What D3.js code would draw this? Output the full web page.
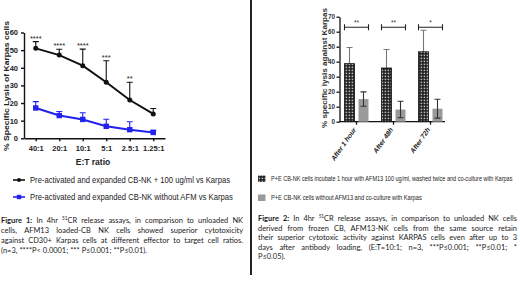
<!DOCTYPE html>
<html>
<head>
<meta charset="utf-8">
<script src="https://cdn.jsdelivr.net/npm/d3@7"></script>
<style>
  body { margin: 0; background: #fff; }
  svg { display: block; }
</style>
</head>
<body>
<div id="wrapper"></div>
<script>
// Figure 1 data: % specific lysis vs E:T ratio
const ratios = ["40:1", "20:1", "10:1", "5:1", "2.5:1", "1.25:1"];
const afmMean = [51, 47.2, 41.2, 31.8, 21.7, 13.8];
const afmSd = [3.8, 3.3, 9.4, 12.2, 10.1, 3.1];
const noAfmMean = [17.2, 12.9, 10.7, 6.8, 4.9, 3.3];
const noAfmSd = [3.6, 2.3, 3.8, 4.0, 4.5, 1.2];
const ratioStars = ["****", "****", "****", "***", "**", ""];
const leftTicks = [0, 10, 20, 30, 40, 50, 60];

// Figure 2 data: lysis after antibody loading
const times = ["After 1 hour", "After 48h", "After 72h"];
const loadedMean = [38.7, 35.8, 46.6];
const loadedSd = [10.8, 12.3, 14.4];
const unloadedMean = [15.1, 8.1, 8.7];
const unloadedSd = [4.8, 5.5, 6.3];
const timeStars = ["**", "**", "*"];
const bracketLevel = 63;
const rightTicks = [0, 10, 20, 30, 40, 50, 60, 70];

const legendLeft = [
  "Pre-activated and expanded CB-NK + 100 ug/ml vs Karpas",
  "Pre-activated and expanded CB-NK without AFM vs Karpas"
];
const legendRight = [
  "P+E CB-NK cells incubate 1 hour with AFM13 100 ug/ml, washed twice and co-culture with Karpas",
  "P+E CB-NK cells without AFM13 and co-culture with Karpas"
];
const caption1 = [
  "#Figure #1: In 4hr {51}CR release assays, in comparison to unloaded NK",
  "cells, AFM13 loaded-CB NK cells showed superior cytotoxicity",
  "against CD30+ Karpas cells at different effector to target cell ratios.",
  "(n=3, ****P< 0.0001; *** P≤0.001; **P≤0.01)."
];
const caption2 = [
  "#Figure #2: In 4hr {51}CR release assays, in comparison to unloaded NK cells",
  "derived from frozen CB, AFM13-NK cells from the same source retain",
  "their superior cytotoxic activity against KARPAS cells even after up to 3",
  "days after antibody loading, (E:T=10:1; n=3, ***P≤0.001; **P≤0.01; *",
  "P≤0.05)."
];

const blue = "#2222ee";
const axisFont = "Liberation Sans, Arial, sans-serif";
const capFont = "Lato, 'Open Sans', sans-serif";

const svg = d3.select("#wrapper").append("svg")
  .attr("width", 520).attr("height", 281)
  .attr("viewBox", "0 0 520 281");
svg.append("rect").attr("width", 520).attr("height", 281).attr("fill", "#fff");

// checker pattern for the loaded bars
const defs = svg.append("defs");
const pat = defs.append("pattern").attr("id", "checker")
  .attr("patternUnits", "userSpaceOnUse").attr("width", 3).attr("height", 3);
pat.append("rect").attr("width", 3).attr("height", 3).attr("fill", "#1a1a1a");
pat.append("rect").attr("x", 0.6).attr("y", 0.6).attr("width", 1.6).attr("height", 1.6).attr("fill", "#bbb");

// squeeze a text horizontally so it spans the given width (narrow font look)
function narrowText(g, str, x, y, fs, width) {
  const t = g.append("text")
    .attr("font-family", axisFont).attr("font-size", fs).attr("fill", "#222")
    .text(str);
  const len = t.node().getComputedTextLength();
  t.attr("transform", `translate(${x},${y}) scale(${width / len},1)`);
  return t;
}

// ---------------- Figure 1 ----------------
const xL = d3.scalePoint().domain(ratios).range([24, 165]).padding(0.5);
const yL = d3.scaleLinear().domain([0, 60]).range([138.3, 32.5]);
const left = svg.append("g");

left.append("g").attr("transform", "translate(24,0)")
  .call(d3.axisLeft(yL).tickValues(leftTicks).tickSize(3).tickSizeOuter(0))
  .call(g => g.selectAll("text").attr("font-size", 7.5).attr("font-weight", "bold").attr("font-family", axisFont).attr("fill", "#222"))
  .call(g => g.selectAll("path,line").attr("stroke", "#111").attr("stroke-width", 1.4));
left.append("g").attr("transform", "translate(0,138.3)")
  .call(d3.axisBottom(xL).tickSize(3).tickSizeOuter(0))
  .call(g => g.selectAll("text").attr("font-size", 7.5).attr("font-weight", "bold").attr("font-family", axisFont).attr("fill", "#222").attr("dy", "0.9em"))
  .call(g => g.selectAll("path,line").attr("stroke", "#111").attr("stroke-width", 1.4));

left.append("text")
  .attr("transform", "translate(9,86) rotate(-90)")
  .attr("text-anchor", "middle")
  .attr("font-family", axisFont).attr("font-weight", "bold").attr("font-size", 8)
  .attr("fill", "#222")
  .attr("textLength", 130).attr("lengthAdjust", "spacingAndGlyphs")
  .text("% Specific Lysis of Karpas cells");
left.append("text")
  .attr("x", 93).attr("y", 165)
  .attr("text-anchor", "middle")
  .attr("font-family", axisFont).attr("font-weight", "bold").attr("font-size", 8.5)
  .attr("fill", "#222")
  .text("E:T ratio");

const series = [
  { mean: afmMean, sd: afmSd, color: "#111", shape: "circle" },
  { mean: noAfmMean, sd: noAfmSd, color: blue, shape: "square" }
];
series.forEach(s => {
  const pts = ratios.map((r, i) => ({ r, m: s.mean[i], e: s.mean[i] + s.sd[i] }));
  const g = left.append("g");
  g.selectAll(".err").data(pts).enter().append("path")
    .attr("d", d => `M${xL(d.r)},${yL(d.m)}V${yL(d.e)}M${xL(d.r) - 3},${yL(d.e)}H${xL(d.r) + 3}`)
    .attr("stroke", s.color).attr("stroke-width", 1.1).attr("fill", "none");
  g.append("path")
    .attr("d", d3.line().x(d => xL(d.r)).y(d => yL(d.m))(pts))
    .attr("stroke", s.color).attr("stroke-width", 2).attr("fill", "none");
  if (s.shape === "circle") {
    g.selectAll("circle").data(pts).enter().append("circle")
      .attr("cx", d => xL(d.r)).attr("cy", d => yL(d.m)).attr("r", 2.5).attr("fill", s.color);
  } else {
    g.selectAll("rect").data(pts).enter().append("rect")
      .attr("x", d => xL(d.r) - 2.7).attr("y", d => yL(d.m) - 2.7)
      .attr("width", 5.4).attr("height", 5.4).attr("fill", s.color);
  }
});
left.append("g").selectAll("text").data(ratios).enter().append("text")
  .attr("x", d => xL(d))
  .attr("y", (d, i) => yL(afmMean[i] + afmSd[i]) - 1)
  .attr("text-anchor", "middle")
  .attr("font-family", axisFont).attr("font-size", 7.5).attr("fill", "#222")
  .text((d, i) => ratioStars[i]);

// legend 1
const legL = left.append("g");
legendLeft.forEach((t, i) => {
  const y = 180 + i * 17;
  const c = i === 0 ? "#111" : blue;
  legL.append("line").attr("x1", 13).attr("x2", 25).attr("y1", y).attr("y2", y)
    .attr("stroke", c).attr("stroke-width", 1.6);
  if (i === 0) legL.append("circle").attr("cx", 19).attr("cy", y).attr("r", 2).attr("fill", c);
  else legL.append("rect").attr("x", 16.8).attr("y", y - 2.2).attr("width", 4.4).attr("height", 4.4).attr("fill", c);
  narrowText(legL, t, 30, y + 3, 8.2, i === 0 ? 200 : 203);
});

// divider
svg.append("line").attr("x1", 251).attr("x2", 251).attr("y1", 0).attr("y2", 275)
  .attr("stroke", "#222").attr("stroke-width", 2);

// ---------------- Figure 2 ----------------
const xR = d3.scaleBand().domain(times).range([338, 449]);
const sub = d3.scaleBand().domain(["loaded", "unloaded"]).range([-12, 12]).paddingInner(0.2857);
const yR = d3.scaleLinear().domain([0, 70]).range([121.7, 16.7]);
const right = svg.append("g");

right.append("g").attr("transform", "translate(339.5,0)")
  .call(d3.axisLeft(yR).tickValues(rightTicks).tickSize(3).tickPadding(1.5).tickSizeOuter(0))
  .call(g => g.selectAll("text").attr("font-size", 6.3).attr("font-weight", "bold").attr("font-family", axisFont).attr("fill", "#333"))
  .call(g => g.selectAll("path,line").attr("stroke", "#111").attr("stroke-width", 1.3));
right.append("g").attr("transform", "translate(0,121.7)")
  .call(d3.axisBottom(xR).tickSize(3).tickSizeOuter(0))
  .call(g => g.select(".domain").attr("d", "M339.5,0H445"))
  .call(g => g.selectAll("path,line").attr("stroke", "#111").attr("stroke-width", 1.3))
  .call(g => g.selectAll("text")
    .attr("font-size", 6.8).attr("font-weight", "bold").attr("font-style", "italic")
    .attr("font-family", axisFont).attr("fill", "#222")
    .attr("text-anchor", "end").attr("dy", 0).attr("y", 0)
    .attr("transform", "translate(0,8) rotate(-55)"));

right.append("text")
  .attr("transform", "translate(327,68) rotate(-90)")
  .attr("text-anchor", "middle")
  .attr("font-family", axisFont).attr("font-weight", "bold").attr("font-size", 7)
  .attr("fill", "#333")
  .attr("textLength", 120).attr("lengthAdjust", "spacingAndGlyphs")
  .text("% specific lysis against Karpas");

const bars = times.map((t, i) => ({ t, lm: loadedMean[i], ls: loadedSd[i], um: unloadedMean[i], us: unloadedSd[i], star: timeStars[i] }));
const bw = sub.bandwidth();
const gx = d => xR(d.t) + xR.bandwidth() / 2;
const bg = right.append("g");
// loaded (checker) bars with upward error
bg.selectAll(".err1").data(bars).enter().append("path")
  .attr("d", d => { const x = gx(d) + sub("loaded") + bw / 2; return `M${x},${yR(d.lm)}V${yR(d.lm + d.ls)}M${x - 3},${yR(d.lm + d.ls)}H${x + 3}`; })
  .attr("stroke", "#777").attr("stroke-width", 1.1).attr("fill", "none");
bg.selectAll(".bar1").data(bars).enter().append("rect")
  .attr("x", d => gx(d) + sub("loaded")).attr("width", bw)
  .attr("y", d => yR(d.lm)).attr("height", d => yR(0) - yR(d.lm))
  .attr("fill", "url(#checker)").attr("stroke", "#111").attr("stroke-width", 0.8);
// unloaded (gray) bars with two-sided error
bg.selectAll(".bar2").data(bars).enter().append("rect")
  .attr("x", d => gx(d) + sub("unloaded")).attr("width", bw)
  .attr("y", d => yR(d.um)).attr("height", d => yR(0) - yR(d.um))
  .attr("fill", "#9a9a9a");
bg.selectAll(".err2").data(bars).enter().append("path")
  .attr("d", d => {
    const x = gx(d) + sub("unloaded") + bw / 2;
    const hi = yR(d.um + d.us), lo = yR(d.um - d.us);
    return `M${x},${lo}V${hi}M${x - 3},${hi}H${x + 3}M${x - 3},${lo}H${x + 3}`;
  })
  .attr("stroke", "#333").attr("stroke-width", 1.1).attr("fill", "none");
// significance brackets
bg.selectAll(".brk").data(bars).enter().append("path")
  .attr("d", d => {
    const x1 = gx(d) + sub("loaded"), x2 = gx(d) + sub("unloaded") + bw, y = yR(bracketLevel);
    return `M${x1},${y - 3}V${y + 3}M${x1},${y}H${x2}M${x2},${y - 3}V${y + 3}`;
  })
  .attr("stroke", "#222").attr("stroke-width", 1.1).attr("fill", "none");
bg.selectAll(".star").data(bars).enter().append("text")
  .attr("x", gx).attr("y", yR(bracketLevel) - 2)
  .attr("text-anchor", "middle")
  .attr("font-family", axisFont).attr("font-size", 6.5).attr("fill", "#333")
  .text(d => d.star);

// legend 2
const legR = right.append("g");
legendRight.forEach((t, i) => {
  const y = 179 + i * 19;
  legR.append("rect").attr("x", 258).attr("y", y - 3.5).attr("width", 7.5).attr("height", 6.5)
    .attr("fill", i === 0 ? "url(#checker)" : "#9a9a9a");
  narrowText(legR, t, 271, y + 2.3, 6.3, i === 0 ? 242 : 151);
});

// ---------------- captions (justified) ----------------
function paragraph(lines, x0, width, y0, lh, fs) {
  const g = svg.append("g");
  lines.forEach((line, li) => {
    const y = y0 + li * lh;
    const words = line.split(" ");
    const nodes = words.map(w => {
      const t = g.append("text").attr("y", y)
        .attr("font-family", capFont).attr("font-size", fs).attr("fill", "#1a1a1a");
      let word = w;
      if (word.startsWith("#")) { word = word.slice(1); t.attr("font-weight", "bold"); }
      const m = word.match(/^\{(\d+)\}(.*)$/);
      if (m) {
        t.append("tspan").attr("font-size", fs * 0.62).attr("dy", -fs * 0.38).text(m[1]);
        t.append("tspan").attr("dy", fs * 0.38).text(m[2]);
      } else {
        t.text(word);
      }
      return t;
    });
    const widths = nodes.map(t => t.node().getComputedTextLength());
    const total = d3.sum(widths);
    const last = li === lines.length - 1;
    let gap = last || words.length < 2 ? fs * 0.27 : (width - total) / (words.length - 1);
    gap = Math.max(gap, fs * 0.18);
    let x = x0;
    nodes.forEach((t, j) => { t.attr("x", x); x += widths[j] + gap; });
  });
}
paragraph(caption1, 1, 242, 223, 10, 7.45);
paragraph(caption2, 258, 259, 221, 9.6, 7.45);
</script>
</body>
</html>
